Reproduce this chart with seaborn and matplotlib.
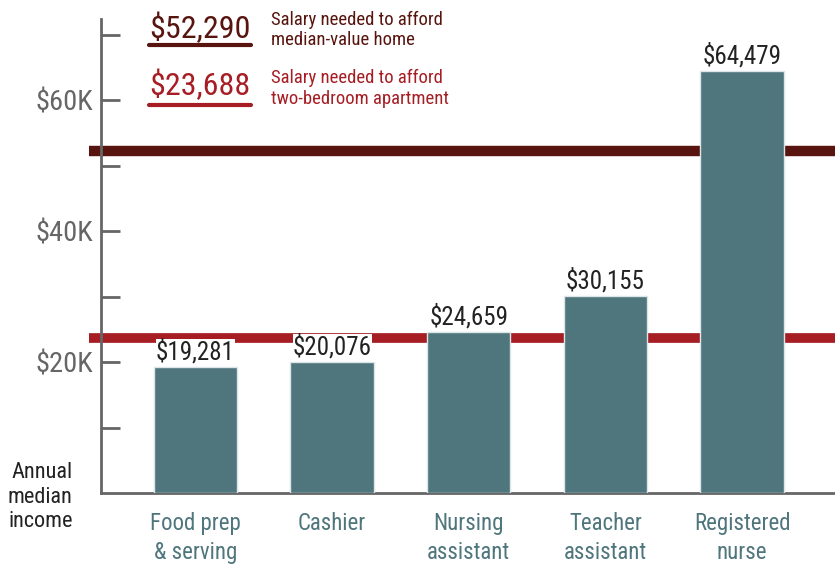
import matplotlib
matplotlib.use('Agg')
import matplotlib.pyplot as plt
import matplotlib.font_manager as fm
import seaborn as sns
import numpy as np

jobs = ['Food prep\n& serving', 'Cashier', 'Nursing\nassistant', 'Teacher\nassistant', 'Registered\nnurse']
income = [19281, 20076, 24659, 30155, 64479]
home_salary = 52290
apt_salary = 23688
home_note = 'Salary needed to afford\nmedian-value home'
apt_note = 'Salary needed to afford\ntwo-bedroom apartment'
major_ticks = [20000, 40000, 60000]
major_labels = ['$20K', '$40K', '$60K']
minor_ticks = [10000, 30000, 50000, 70000]

BAR = '#4f767c'
DARK = '#58140e'
RED = '#a61e24'
AXIS = '#666666'


def pick_font(names):
    for name in names:
        try:
            fm.findfont(fm.FontProperties(family=name), fallback_to_default=False)
            return name
        except ValueError:
            continue
    return 'DejaVu Sans'


sns.set_style('white')
font = pick_font(['Liberation Sans Narrow', 'Roboto Condensed', 'Open Sans Condensed', 'Noto Sans'])
plt.rcParams['font.family'] = [font, 'DejaVu Sans']

fig = plt.figure(figsize=(8.35, 5.65), dpi=100)
ax = fig.add_axes([0.121, 0.1274, 0.879, 0.8392])

# reference lines sit behind the bars and run a bit past the y axis
x0, x1 = -0.78, 4.7
ax.hlines(home_salary, x0, x1, color=DARK, linewidth=7.5, zorder=1, clip_on=False)
ax.hlines(apt_salary, x0, x1, color=RED, linewidth=7, zorder=1, clip_on=False)

sns.barplot(x=jobs, y=income, color=BAR, saturation=1, width=0.61,
            edgecolor='#dce6e8', linewidth=1, ax=ax, zorder=3)

for i, v in enumerate(income):
    ax.text(i, v + 350, f'${v:,}', ha='center', va='bottom', fontsize=18, color='#222222',
            zorder=4, bbox=dict(facecolor='white', edgecolor='none', pad=0))

ax.set_xlim(-0.69, 4.68)
ax.set_ylim(0, 72400)

for s in ['top', 'right']:
    ax.spines[s].set_visible(False)
for s in ['left', 'bottom']:
    ax.spines[s].set_color(AXIS)
    ax.spines[s].set_linewidth(2)

ax.set_yticks(major_ticks)
ax.set_yticklabels(major_labels)
ax.set_yticks(minor_ticks, minor=True)
ax.tick_params(axis='y', which='both', direction='in', length=14, width=2, color=AXIS,
               labelsize=20.5, labelcolor=AXIS, pad=6, left=True)
ax.tick_params(axis='x', length=0, labelsize=16.5, labelcolor=BAR, pad=14)
for lab in ax.get_xticklabels():
    lab.set_linespacing(1.3)

ax.set_xlabel('')
ax.set_ylabel('')

# legend-style notes in the top left
fig.text(0.179, 0.950, f'${home_salary:,}', fontsize=23, color=DARK, ha='left', va='center')
fig.text(0.179, 0.849, f'${apt_salary:,}', fontsize=23, color=RED, ha='left', va='center')
fig.add_artist(plt.Line2D([0.179, 0.301], [0.920, 0.920], color=DARK, linewidth=3))
fig.add_artist(plt.Line2D([0.179, 0.301], [0.814, 0.814], color=RED, linewidth=3))
fig.text(0.325, 0.947, home_note, fontsize=13.5, color=DARK, ha='left', va='center', linespacing=1.2)
fig.text(0.325, 0.844, apt_note, fontsize=13.5, color=RED, ha='left', va='center', linespacing=1.2)

fig.text(0.087, 0.12, 'Annual\nmedian\nincome', fontsize=16, color='#222222',
         ha='right', va='center', linespacing=1.2)

fig.savefig('out.png', dpi=100)
